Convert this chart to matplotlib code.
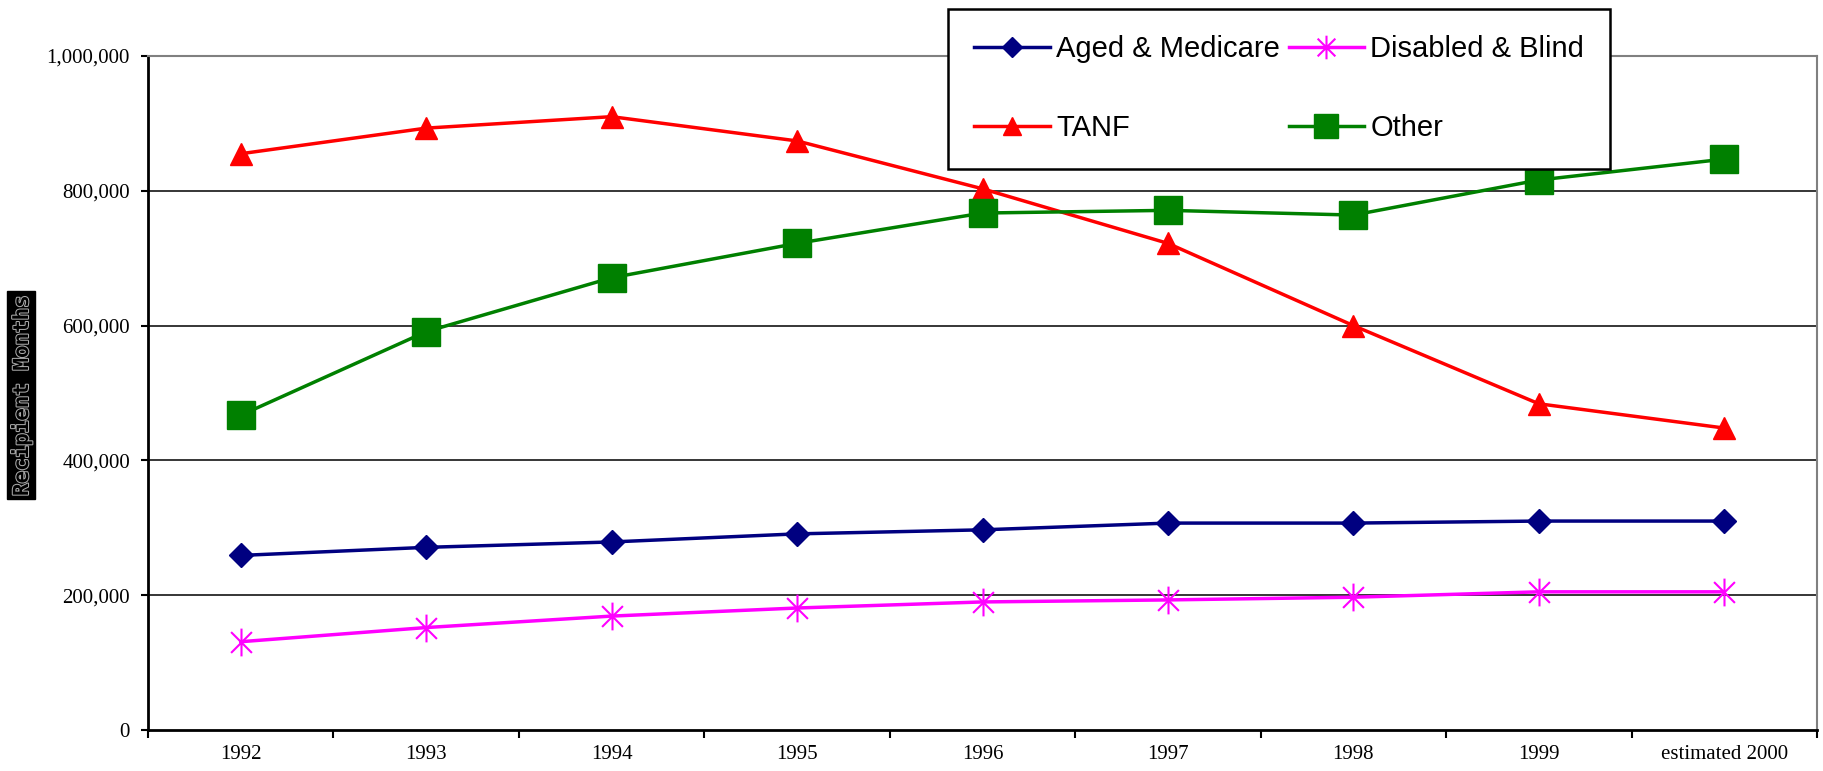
import matplotlib
matplotlib.use("Agg")
import matplotlib.pyplot as plt
import matplotlib.patheffects as pe
from matplotlib.path import Path
from matplotlib.ticker import FuncFormatter, FixedLocator, NullFormatter

categories = ["1992", "1993", "1994", "1995", "1996", "1997", "1998", "1999", "estimated 2000"]
aged = [259000, 271000, 279000, 291000, 297000, 307000, 307000, 310000, 310000]
disabled = [131000, 152000, 169000, 181000, 190000, 193000, 197000, 205000, 205000]
tanf = [855000, 893000, 910000, 874000, 803000, 722000, 600000, 484000, 448000]
other = [467000, 591000, 671000, 722000, 767000, 771000, 764000, 816000, 847000]
yticks = [0, 200000, 400000, 600000, 800000, 1000000]

fig = plt.figure(figsize=(18.23, 7.71), dpi=100)
ax = fig.add_axes([148/1823, 1-730/771, (1817-148)/1823, (730-56)/771])

x = list(range(len(categories)))

ast = Path([(0, -1), (0, 1), (-0.75, -0.75), (0.75, 0.75), (-0.75, 0.75), (0.75, -0.75)],
           [Path.MOVETO, Path.LINETO, Path.MOVETO, Path.LINETO, Path.MOVETO, Path.LINETO])

h_aged, = ax.plot(x, aged, color="#000080", lw=2.5, marker="D", ms=12, label="Aged & Medicare", zorder=5)
h_dis, = ax.plot(x, disabled, color="#FF00FF", lw=2.5, marker=ast, ms=20, mew=1.5, label="Disabled & Blind", zorder=5)
h_tanf, = ax.plot(x, tanf, color="#FF0000", lw=2.5, marker="^", ms=16, label="TANF", zorder=5)
h_oth, = ax.plot(x, other, color="#008000", lw=2.5, marker="s", ms=20, label="Other", zorder=5)

ax.set_xlim(-0.5, len(categories) - 0.5)
ax.set_ylim(0, 1000000)
ax.set_yticks(yticks)
ax.yaxis.set_major_formatter(FuncFormatter(lambda v, p: f"{int(v):,}"))
for yv in yticks[1:-1]:
    ax.axhline(yv, color="black", lw=1.1, zorder=1)

ax.xaxis.set_major_locator(FixedLocator([i - 0.5 for i in range(len(categories) + 1)]))
ax.xaxis.set_major_formatter(NullFormatter())
ax.xaxis.set_minor_locator(FixedLocator(x))
ax.set_xticklabels(categories, minor=True)
ax.tick_params(axis="x", which="minor", length=0, pad=11)
ax.tick_params(axis="x", which="major", length=6, width=1.5, direction="out")
ax.tick_params(axis="y", length=5, width=1.5, direction="out", pad=8)
for lab in ax.get_xticklabels(minor=True) + ax.get_yticklabels():
    lab.set_fontfamily("Liberation Serif")
    lab.set_fontsize(15)

for s in ["left", "bottom"]:
    ax.spines[s].set_color("black")
    ax.spines[s].set_linewidth(2)
for s in ["top", "right"]:
    ax.spines[s].set_color("#808080")
    ax.spines[s].set_linewidth(1.5)

fig.text(21/1823, 1 - 395/771, "Recipient Months", rotation=90, ha="center", va="center",
         fontsize=15, fontweight="bold", color="black", family="DejaVu Sans Mono",
         path_effects=[pe.withStroke(linewidth=1.5, foreground="#aaaaaa")],
         bbox=dict(facecolor="black", edgecolor="black", pad=2))

leg = fig.legend([h_aged, h_tanf, h_dis, h_oth],
                 ["Aged & Medicare", "TANF", "Disabled & Blind", "Other"],
                 loc="upper left", bbox_to_anchor=(948/1823, 1 - 9/771), ncol=2,
                 borderaxespad=0,
                 frameon=True, fancybox=False, edgecolor="black", framealpha=1,
                 prop={"family": "Liberation Sans", "size": 21},
                 labelspacing=1.75, columnspacing=0.3, handlelength=2.6, handletextpad=0.2,
                 borderpad=0.9, markerscale=0.85)
leg.get_frame().set_linewidth(1.8)
leg.set_zorder(10)

fig.savefig("out.png", dpi=100)
